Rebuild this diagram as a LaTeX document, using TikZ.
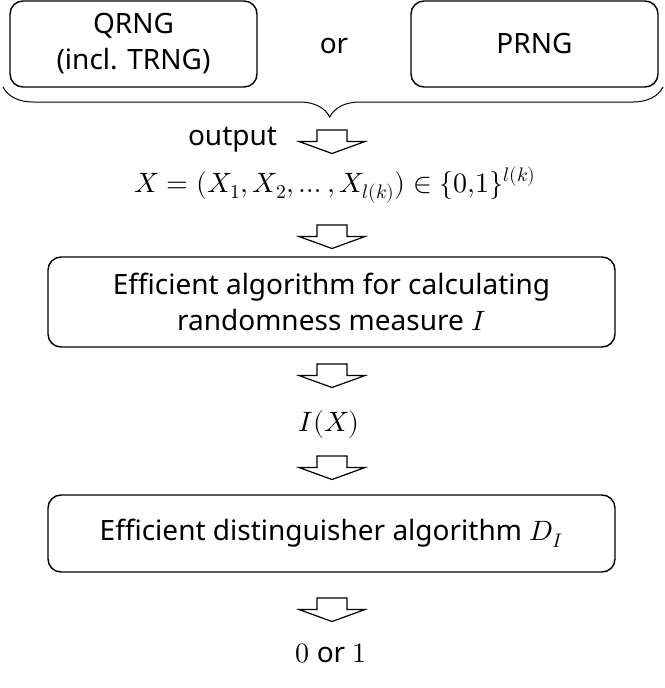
\documentclass[tikz,border=0pt]{standalone}
\usepackage{fontspec}
\usepackage{unicode-math}
\setmainfont{Noto Sans}
\setmathfont{Latin Modern Math}
\usetikzlibrary{positioning, decorations.pathreplacing}

\tikzset{
  genbox/.style={draw, rounded corners=13pt, line width=1.4pt, align=center, inner sep=0pt},
  arrowline/.style={draw, line width=1.2pt, line join=miter},
  lbl/.style={inner sep=0pt, align=center, anchor=base}
}
% hollow block arrow hanging from a named coordinate (its top centre)
\newcommand\blockarrow[1]{%
  \draw[arrowline] ([shift={(-15,0)}]#1) -- ++(30,0) -- ++(0,11.5) -- ++(18,0)
    -- ++(-33,12) -- ++(-33,-12) -- ++(18,0) -- cycle;}

\begin{document}
\begin{tikzpicture}[x=1pt, y=-1pt, font=\fontsize{28}{36}\selectfont]
\useasboundingbox (0,0) rectangle (664,688);
% generators
\node[genbox, minimum width=247pt, minimum height=86pt] (qrng) at (133.5,44) {QRNG\\(incl. TRNG)};
\node[lbl] (orlbl) at (334,53) {or};
\node[genbox, minimum width=247pt, minimum height=86pt] (prng) at (534.5,44) {PRNG};
\draw[line width=1pt, decorate, decoration={brace, mirror, amplitude=30pt, aspect=0.495}]
  (3,87) -- (663,87);
\node[lbl] (outlbl) at (232.5,145) {output};
% pipeline
\coordinate (a1) at (332,130);
\blockarrow{a1}
\node[lbl] (seq) at (335,192) {$X=(X_1,X_2,\dots,X_{l(k)})\in\{0{,}1\}^{l(k)}$};
\coordinate (a2) at (332,225);
\blockarrow{a2}
\node[genbox, minimum width=567pt, minimum height=90pt] (algo) at (331.5,302)
  {Efficient algorithm for calculating\\randomness measure $I$};
\coordinate (a3) at (332,364);
\blockarrow{a3}
\node[lbl] (ix) at (329,431) {$I(X)$};
\coordinate (a4) at (332,456);
\blockarrow{a4}
\node[genbox, minimum width=567pt, minimum height=77pt] (dist) at (331.5,533.5)
  {Efficient distinguisher algorithm $D_I$};
\coordinate (a5) at (332,598);
\blockarrow{a5}
\node[lbl] (result) at (331,662) {$0$ or $1$};
\end{tikzpicture}
\end{document}
